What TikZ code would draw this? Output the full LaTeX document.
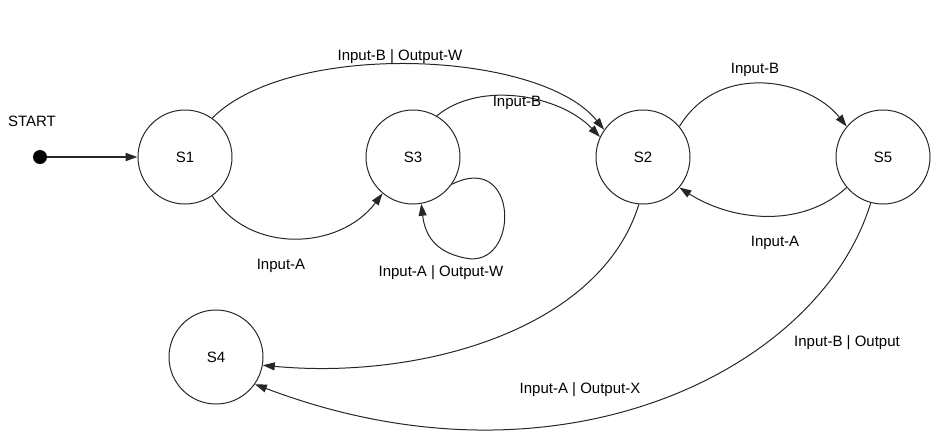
\documentclass[tikz,border=0pt]{standalone}
\usepackage{fontspec}
\setmainfont{Liberation Sans}
\usetikzlibrary{arrows.meta}
\begin{document}
\begin{tikzpicture}[x=1pt,y=-1pt,
    state/.style={circle, draw=black!85, line width=1pt, minimum size=94pt, inner sep=0pt, font=\fontsize{15}{18}\selectfont},
    trans/.style={draw=black!85, line width=1pt, -{Triangle[length=12pt,width=8pt]}},
    lbl/.style={font=\fontsize{15}{18}\selectfont, inner sep=1pt}]
  \clip (0,0) rectangle (941,447);
  \useasboundingbox (0,0) rectangle (941,447);
  % states
  \node[state] (s1) at (185,157) {S1};
  \node[state] (s3) at (413,157) {S3};
  \node[state] (s2) at (643,157) {S2};
  \node[state] (s5) at (883,157) {S5};
  \node[state] (s4) at (216,357) {S4};
  % start
  \node[circle, fill=black, minimum size=14pt, inner sep=0pt] (start) at (40,157) {};
  \node[lbl] (startlbl) at (32,121) {START};
  \draw[trans, line width=2pt] (start) -- (s1);
  % transitions
  \draw[trans] (s1.55) .. controls (290,40) and (540,50) .. (s2.145);
  \draw[trans] (s3.60) .. controls (480,80) and (560,95) .. (s2.155);
  \draw[trans] (s1.-55) .. controls (250,255) and (340,250) .. (s3.-130);
  \draw[trans] (s3.-35) .. controls (520,150) and (520,270) .. (465,258)
    .. controls (435,252) and (425,235) .. (s3.-80);
  \draw[trans] (s2.40) .. controls (720,60) and (810,80) .. (s5.140);
  \draw[trans] (s5.-140) .. controls (800,230) and (730,220) .. (s2.-40);
  \draw[trans] (s2.-95) .. controls (600,330) and (420,380) .. (s4.-10);
  \draw[trans] (s5.-105) .. controls (820,370) and (560,500) .. (s4.-35);
  % labels
  \node[lbl] (l1) at (400,57) {Input-B | Output-W};
  \node[lbl] (l2) at (517,103) {Input-B};
  \node[lbl] (l3) at (755,70) {Input-B};
  \node[lbl] (l4) at (775,243) {Input-A};
  \node[lbl] (l5) at (281,266) {Input-A};
  \node[lbl] (l6) at (441,273) {Input-A | Output-W};
  \node[lbl] (l7) at (580,390) {Input-A | Output-X};
  \node[lbl, anchor=west] (l8) at (793,343) {Input-B | Output};
\end{tikzpicture}
\end{document}
